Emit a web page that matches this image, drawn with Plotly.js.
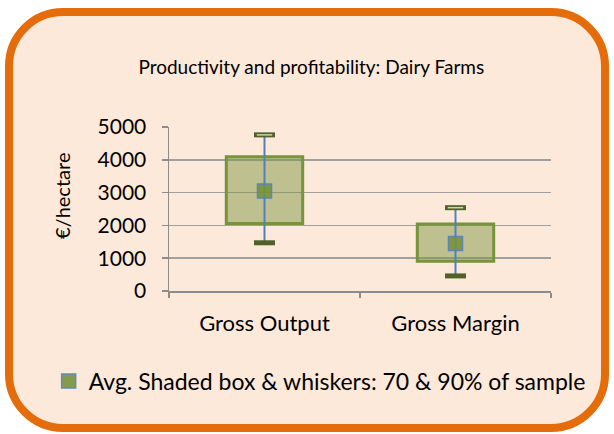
<!DOCTYPE html>
<html>
<head>
<meta charset="utf-8">
<script src="https://cdn.plot.ly/plotly-3.0.1.min.js"></script>
<style>
  html, body { margin: 0; padding: 0; background: #ffffff; }
  #frame { position: absolute; left: 5px; top: 8px; width: 588px; height: 408px;
           border: 8px solid #E46C0A; border-radius: 58px; background: #FDE9D9; }
  #chart { position: absolute; left: 0; top: 0; width: 614px; height: 434px; }
</style>
</head>
<body>
<div id="frame"></div>
<div id="chart"></div>
<script>
// ---- data ----
const categories = ["Gross Output", "Gross Margin"];
const avgValues   = [3050, 1450];   // average (square marker)
const box70Low    = [2060, 910];    // shaded box: 70% of sample
const box70High   = [4090, 2040];
const whisk90Low  = [1470, 460];    // whiskers: 90% of sample
const whisk90High = [4760, 2540];
const yTicks = [0, 1000, 2000, 3000, 4000, 5000];
const legendLabel = "Avg. Shaded box & whiskers: 70 & 90% of sample";

const FONT = "Lato, 'Noto Sans', sans-serif";
const green = "#77933C", dark = "#4F6228", blue = "#4F81BD";

const whiskers = {
  type: "scatter", mode: "markers", x: categories, y: avgValues,
  marker: {opacity: 0, size: 1}, showlegend: false, hoverinfo: "skip",
  error_y: {type: "data", symmetric: false,
            array: avgValues.map((v, i) => whisk90High[i] - v),
            arrayminus: avgValues.map((v, i) => v - whisk90Low[i]),
            color: blue, thickness: 2, width: 0}
};
const boxes = {
  type: "bar", x: categories, base: box70Low,
  y: box70High.map((v, i) => v - box70Low[i]),
  width: 0.4, showlegend: false, hoverinfo: "skip",
  marker: {color: "rgba(119,147,60,0.47)", line: {color: green, width: 3}}
};
const capsLow = {
  type: "scatter", mode: "markers", x: categories, y: whisk90Low,
  showlegend: false, hoverinfo: "skip",
  marker: {symbol: "line-ew", size: 15, line: {color: dark, width: 5}}
};
const capsHigh = {
  type: "scatter", mode: "markers", x: categories, y: whisk90High,
  showlegend: false, hoverinfo: "skip",
  marker: {symbol: "line-ew", size: 15, line: {color: dark, width: 5}}
};
const capsHighInner = {
  type: "scatter", mode: "markers", x: categories, y: whisk90High,
  showlegend: false, hoverinfo: "skip",
  marker: {symbol: "line-ew", size: 11, line: {color: "#C9D6A6", width: 1.5}}
};
const avg = {
  type: "scatter", mode: "markers", x: categories, y: avgValues,
  name: legendLabel, showlegend: true,
  marker: {symbol: "square", size: 14, color: green, opacity: 0.9,
           line: {color: blue, width: 1.5}}
};

const layout = {
  width: 614, height: 434,
  margin: {l: 169, r: 63, t: 127, b: 143, pad: 0},
  paper_bgcolor: "rgba(0,0,0,0)", plot_bgcolor: "rgba(0,0,0,0)",
  font: {family: FONT, color: "#000000", size: 21},
  title: {text: "Productivity and profitability: Dairy Farms",
          font: {family: FONT, size: 19, color: "#000000"},
          x: 0.507, xanchor: "center", xref: "container",
          y: 1 - 67/434, yanchor: "middle", yref: "container"},
  barmode: "overlay",
  xaxis: {type: "category", showgrid: false, zeroline: false,
          showline: true, linecolor: "#8C8C8C", linewidth: 1.5,
          ticks: "outside", tickson: "boundaries", ticklen: 5,
          tickcolor: "#8C8C8C", tickwidth: 1.5, ticklabelstandoff: 12,
          tickfont: {family: FONT, size: 22}, fixedrange: true},
  yaxis: {range: [0, 5000], tickvals: yTicks, ticktext: yTicks.map(String),
          showgrid: true, gridcolor: "#A0A0A0", gridwidth: 1.5,
          zeroline: false, showline: true, linecolor: "#8C8C8C", linewidth: 1.5,
          ticks: "outside", ticklen: 6, tickcolor: "#8C8C8C", tickwidth: 1.5,
          ticklabelstandoff: 11, tickfont: {family: FONT, size: 21}, fixedrange: true},
  showlegend: true,
  legend: {orientation: "h", x: -0.315, xanchor: "left", y: -0.549, yanchor: "middle",
           bgcolor: "rgba(0,0,0,0)", font: {family: FONT, size: 23}, itemclick: false},
  annotations: [{text: "€/hectare", textangle: -90, xref: "paper", yref: "paper",
                 x: (62 - 169) / 382, y: (291 - 196) / 164, xanchor: "center", yanchor: "middle",
                 showarrow: false, font: {family: FONT, size: 20, color: "#000000"}}]
};

Plotly.newPlot("chart", [whiskers, boxes, capsLow, capsHigh, capsHighInner, avg], layout,
               {displayModeBar: false, staticPlot: true});
</script>
</body>
</html>
